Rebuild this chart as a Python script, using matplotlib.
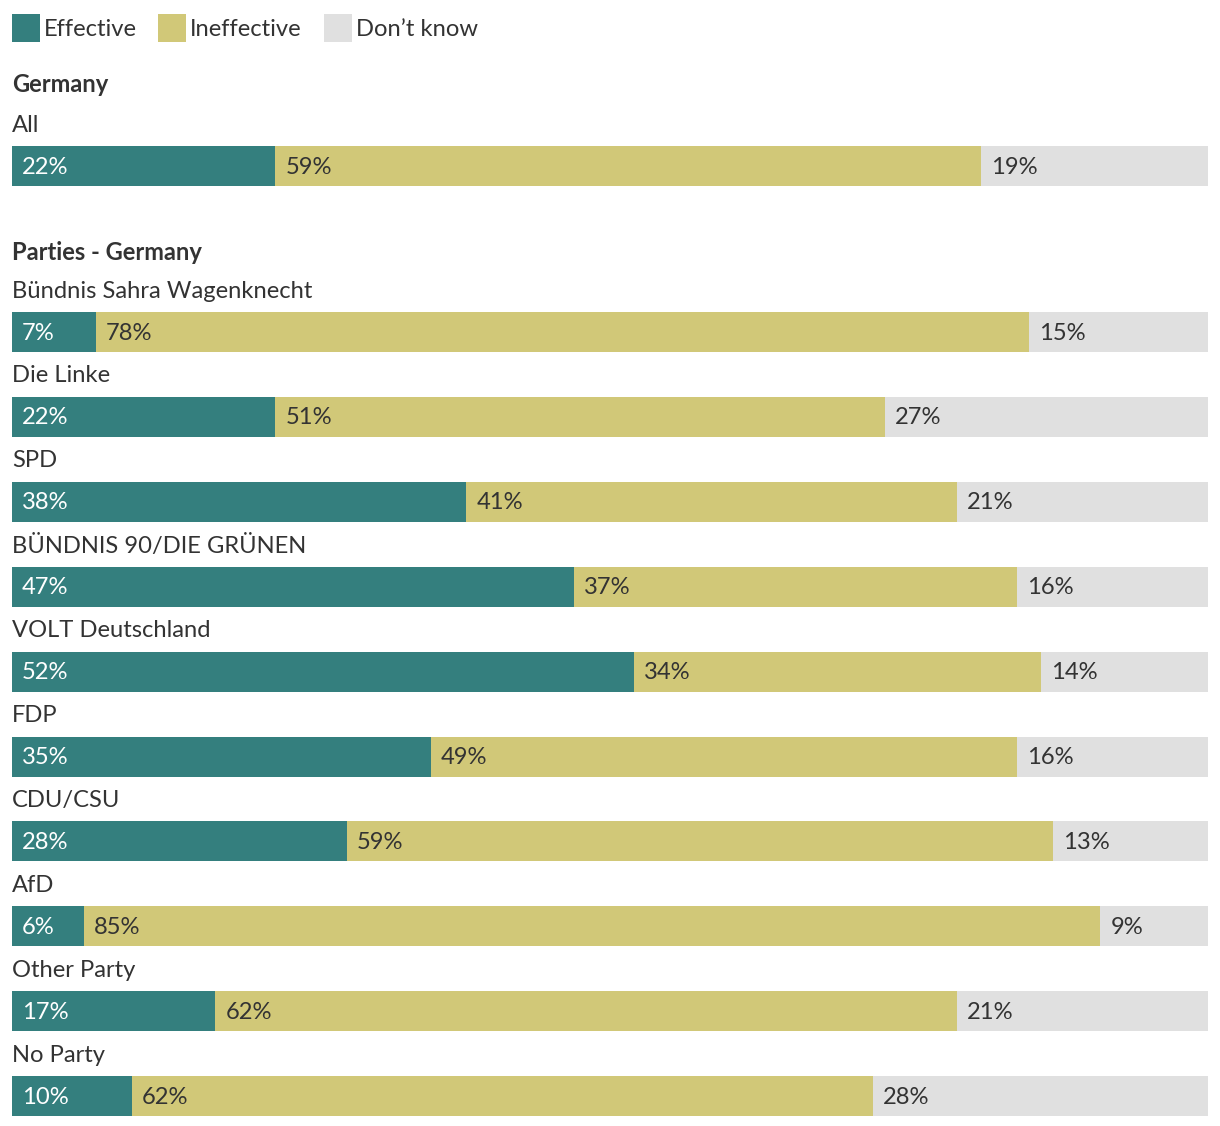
import numpy as np
import matplotlib
matplotlib.use("Agg")
import matplotlib.pyplot as plt
from matplotlib.patches import Rectangle

plt.rcParams['font.family'] = ['Lato', 'DejaVu Sans']

# data
groups = ["Germany", "Parties - Germany"]
all_labels = ["All"]
all_effective = [22]
all_ineffective = [59]
all_dontknow = [19]

party_labels = ["Bündnis Sahra Wagenknecht", "Die Linke", "SPD", "BÜNDNIS 90/DIE GRÜNEN",
                "VOLT Deutschland", "FDP", "CDU/CSU", "AfD", "Other Party", "No Party"]
party_effective = [7, 22, 38, 47, 52, 35, 28, 6, 17, 10]
party_ineffective = [78, 51, 41, 37, 34, 49, 59, 85, 62, 62]
party_dontknow = [15, 27, 21, 16, 14, 16, 13, 9, 21, 28]

series_names = ["Effective", "Ineffective", "Don\u2019t know"]
colors = ["#347f7e", "#d1c878", "#e0e0e0"]
text_colors = ["white", "#333333", "#333333"]
dark = "#333333"

W, H = 1220, 1126
fig = plt.figure(figsize=(W / 100, H / 100), dpi=100)
# axes spans the bar area horizontally, y in pixel units (top = 0)
ax = fig.add_axes([12 / W, 0, 1196 / W, 1])
ax.set_xlim(0, 100)
ax.set_ylim(H, 0)
ax.axis("off")

bar_h = 40
fs = 17.1


def draw_row(yc, label, vals):
    ax.text(0, yc - 41, label, fontsize=fs, color=dark, va="center", ha="left")
    left = 0
    for v, c, tc in zip(vals, colors, text_colors):
        ax.barh(yc, v, left=left, height=bar_h, color=c, edgecolor="none")
        ax.text(left + 0.85, yc + 1, f"{v}%", fontsize=fs, color=tc, va="center", ha="left")
        left += v


# group 1
ax.text(0, 85, groups[0], fontsize=fs, fontweight="bold", color=dark, va="center", ha="left")
for i, lab in enumerate(all_labels):
    draw_row(166 + i * 85, lab, [all_effective[i], all_ineffective[i], all_dontknow[i]])

# group 2
ax.text(0, 253, groups[1], fontsize=fs, fontweight="bold", color=dark, va="center", ha="left")
ys = 332 + np.arange(len(party_labels)) * 84.9
for y, lab, e, n, d in zip(ys, party_labels, party_effective, party_ineffective, party_dontknow):
    draw_row(y, lab, [e, n, d])

# legend
lx = [12, 158, 324]
for x, name, c in zip(lx, series_names, colors):
    fig.patches.append(Rectangle((x / W, 1 - 42 / H), 28 / W, 28 / H, transform=fig.transFigure,
                                 facecolor=c, edgecolor="none"))
    fig.text((x + 32) / W, 1 - 29 / H, name, fontsize=fs, color=dark, va="center", ha="left")

fig.savefig("out.png", dpi=100)
